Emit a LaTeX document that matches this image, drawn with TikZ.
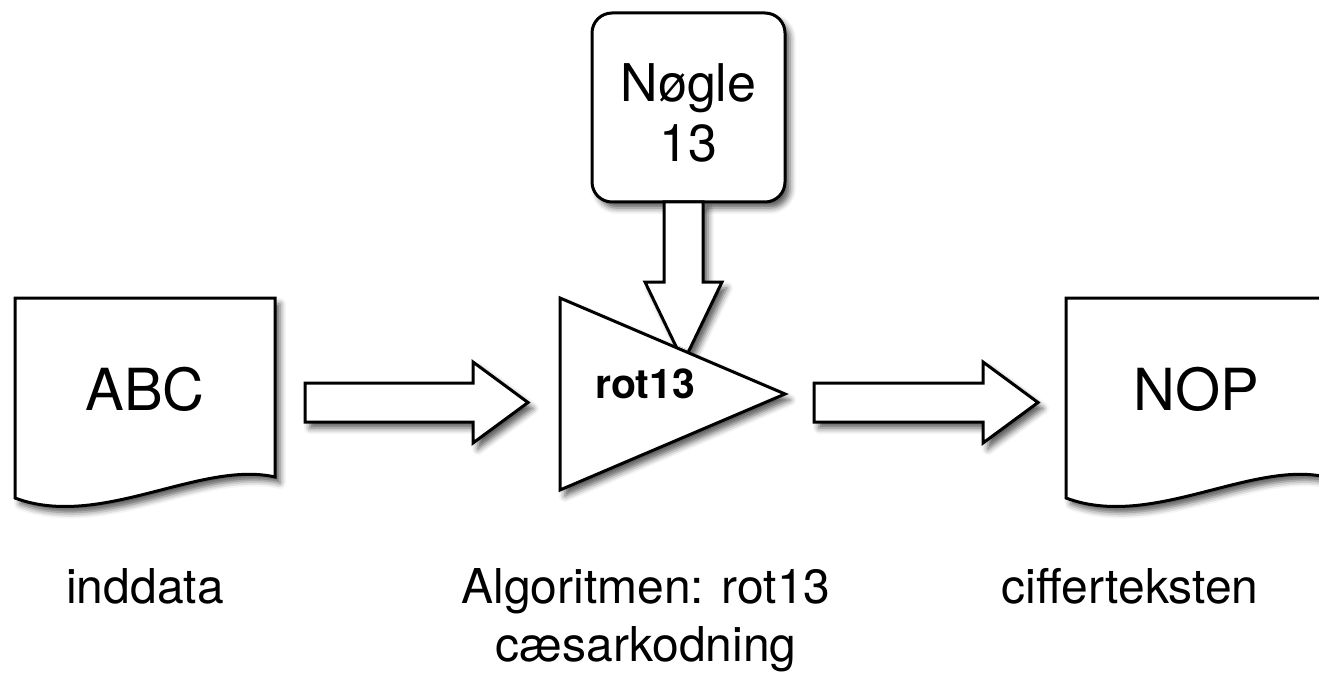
\documentclass[tikz,border=0pt]{standalone}
\usepackage{fontspec}
\setmainfont{TeX Gyre Heros}
\usetikzlibrary{calc,shadows.blur}
\tikzset{
  shape line/.style={draw=black,line width=3pt,fill=white,line join=miter,
    blur shadow={shadow xshift=5pt,shadow yshift=-6pt,shadow blur radius=6pt,shadow opacity=65}},
  big text/.style={font=\fontsize{58}{60}\selectfont,anchor=base},
  label text/.style={font=\fontsize{48}{58}\selectfont,align=center,anchor=base},
}
\begin{document}
\begin{tikzpicture}[x=1pt,y=-1pt]
\pgfmathsetmacro{\kshaft}{19.5}
\pgfmathsetmacro{\khead}{40.5}
\pgfmathsetmacro{\klen}{55}
\useasboundingbox (0,0) rectangle (1319,676);
% documents
\foreach \dx in {15,1066}{\draw[shape line,shift={(\dx,298)}](0,0)--(260,0)--(260,179).. controls (185,162) and (85,232) .. (0,200)--cycle;}
\node[big text] (abc) at (145,410) {ABC};
\node[big text] (nop) at (1196,410) {NOP};
% key
\node[shape line,rounded corners=20pt,minimum width=193pt,text height=149pt,text depth=40pt,inner sep=0pt,
  font=\fontsize{52}{60}\selectfont,align=center,anchor=base] (key) at (688.5,162) {Nøgle\\13};
\coordinate (key out) at (683.5,202);
\coordinate (key tip) at (683.5,362);
\draw[shape line]($(key out)+(-\kshaft,0)$)--($(key tip)+(-\kshaft,-80)$)--($(key tip)+(-38.5,-80)$)--(key tip)
  --($(key tip)+(38.5,-80)$)--($(key tip)+(\kshaft,-80)$)--($(key out)+(\kshaft,0)$)--cycle;
% algorithm
\draw[shape line](560,298)--(785,394)--(560,490)--cycle;
\node[font=\bfseries\fontsize{41}{44}\selectfont,anchor=base] (rot) at (645,398) {rot13};
% flow arrows
\coordinate (in tail) at (305,402.5);
\coordinate (in tip) at (528,402.5);
\coordinate (out tail) at (814,402.5);
\coordinate (out tip) at (1038,402.5);
\foreach \ta/\tb in {in tail/in tip,out tail/out tip}{
\draw[shape line]($(\ta)+(0,-\kshaft)$)--($(\tb)+(-\klen,-\kshaft)$)--($(\tb)+(-\klen,-\khead)$)--(\tb)
  --($(\tb)+(-\klen,\khead)$)--($(\tb)+(-\klen,\kshaft)$)--($(\ta)+(0,\kshaft)$)--cycle;}
% labels
\node[label text] (in label) at (145,603) {inddata};
\node[label text] (algo label) at (646,661) {Algoritmen: rot13\\cæsarkodning};
\node[label text] (out label) at (1130,603) {cifferteksten};
\end{tikzpicture}
\end{document}
